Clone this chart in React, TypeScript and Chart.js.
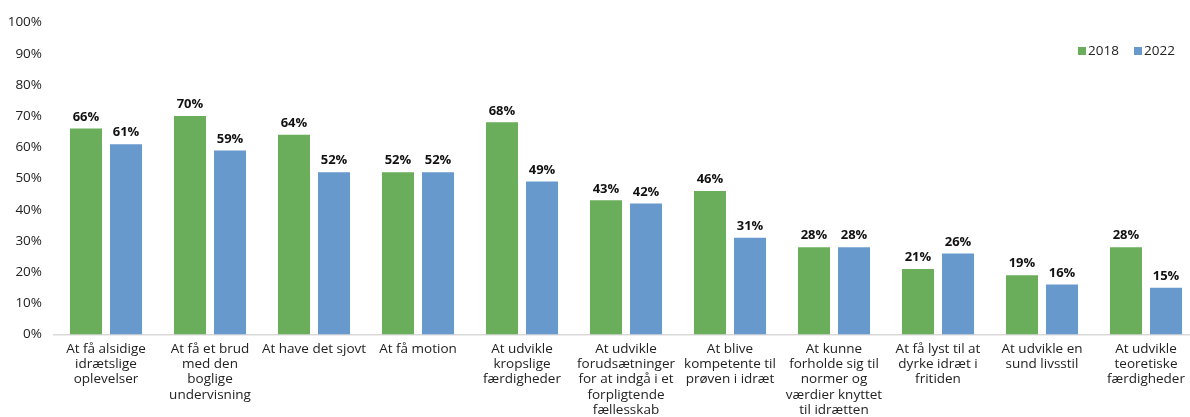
import React, { useEffect, useRef } from "react";
import { Chart, registerables } from "chart.js";

Chart.register(...registerables);

const categories: string[][] = [
  ["At få alsidige", "idrætslige", "oplevelser"],
  ["At få et brud", "med den", "boglige", "undervisning"],
  ["At have det sjovt"],
  ["At få motion"],
  ["At udvikle", "kropslige", "færdigheder"],
  ["At udvikle", "forudsætninger", "for at indgå i et", "forpligtende", "fællesskab"],
  ["At blive", "kompetente til", "prøven i idræt"],
  ["At kunne", "forholde sig til", "normer og", "værdier knyttet", "til idrætten"],
  ["At få lyst til at", "dyrke idræt i", "fritiden"],
  ["At udvikle en", "sund livsstil"],
  ["At udvikle", "teoretiske", "færdigheder"],
];

const values2018: number[] = [66, 70, 64, 52, 68, 43, 46, 28, 21, 19, 28];
const values2022: number[] = [61, 59, 52, 52, 49, 42, 31, 28, 26, 16, 15];
const seriesNames: string[] = ["2018", "2022"];
const yTicks: number[] = [0, 10, 20, 30, 40, 50, 60, 70, 80, 90, 100];

const GREEN = "#6aad5a";
const BLUE = "#6899cd";
const FONT = "'Open Sans', sans-serif";

const dataLabelPlugin = {
  id: "dataLabels",
  afterDatasetsDraw(chart: any) {
    const ctx = chart.ctx;
    ctx.save();
    ctx.font = `bold 13px ${FONT}`;
    ctx.fillStyle = "#111";
    ctx.textAlign = "center";
    ctx.textBaseline = "bottom";
    chart.data.datasets.forEach((ds: any, di: number) => {
      const meta = chart.getDatasetMeta(di);
      meta.data.forEach((bar: any, i: number) => {
        ctx.fillText(`${ds.data[i]}%`, bar.x, bar.y - 5);
      });
    });
    ctx.restore();
  },
};

const legendPlugin = {
  id: "customLegend",
  afterDraw(chart: any) {
    const ctx = chart.ctx;
    ctx.save();
    ctx.font = `13.5px ${FONT}`;
    ctx.textBaseline = "middle";
    ctx.textAlign = "left";
    const y = 51;
    let x = 1078;
    chart.data.datasets.forEach((ds: any) => {
      ctx.fillStyle = ds.backgroundColor;
      ctx.fillRect(x, y - 4, 8, 8);
      ctx.fillStyle = "#222";
      ctx.fillText(ds.label, x + 10, y);
      x += 56;
    });
    ctx.restore();
  },
};

export default function App() {
  const ref = useRef<HTMLCanvasElement>(null);
  useEffect(() => {
    if (!ref.current) return;
    const chart = new Chart(ref.current, {
      type: "bar",
      data: {
        labels: categories,
        datasets: [
          { label: seriesNames[0], data: values2018, backgroundColor: GREEN, barPercentage: 0.8, categoryPercentage: 0.77 },
          { label: seriesNames[1], data: values2022, backgroundColor: BLUE, barPercentage: 0.8, categoryPercentage: 0.77 },
        ],
      },
      options: {
        animation: false,
        responsive: false,
        maintainAspectRatio: false,
        layout: { padding: { top: 22.5, right: 2, left: 0, bottom: 0 } },
        plugins: { legend: { display: false }, tooltip: { enabled: false } },
        scales: {
          x: {
            grid: { display: false, drawTicks: false },
            border: { display: true, color: "#d9d9d9", width: 1.5 },
            ticks: {
              font: { family: "'Open Sans', sans-serif", size: 13.5, lineHeight: 1.13 },
              color: "#222",
              padding: 7,
              maxRotation: 0,
              autoSkip: false,
            },
            afterFit(scale: any) {
              scale.height = 82.5;
            },
          },
          y: {
            min: 0,
            max: 100,
            afterBuildTicks(scale: any) {
              scale.ticks = yTicks.map((v) => ({ value: v }));
            },
            grid: { display: false, drawTicks: false },
            border: { display: false },
            ticks: {
              font: { family: "'Open Sans', sans-serif", size: 13.5 },
              color: "#222",
              padding: 12,
              callback: (v: any) => `${v}%`,
            },
            afterFit(scale: any) {
              scale.width = 54;
            },
          },
        },
      },
      plugins: [dataLabelPlugin, legendPlugin],
    });
    return () => chart.destroy();
  }, []);
  return (
    <div style={{ position: "fixed", left: 0, top: 0, width: 1200, height: 417, background: "#fff" }}>
      <canvas ref={ref} width={1200} height={417} style={{ width: 1200, height: 417, display: "block" }} />
    </div>
  );
}
